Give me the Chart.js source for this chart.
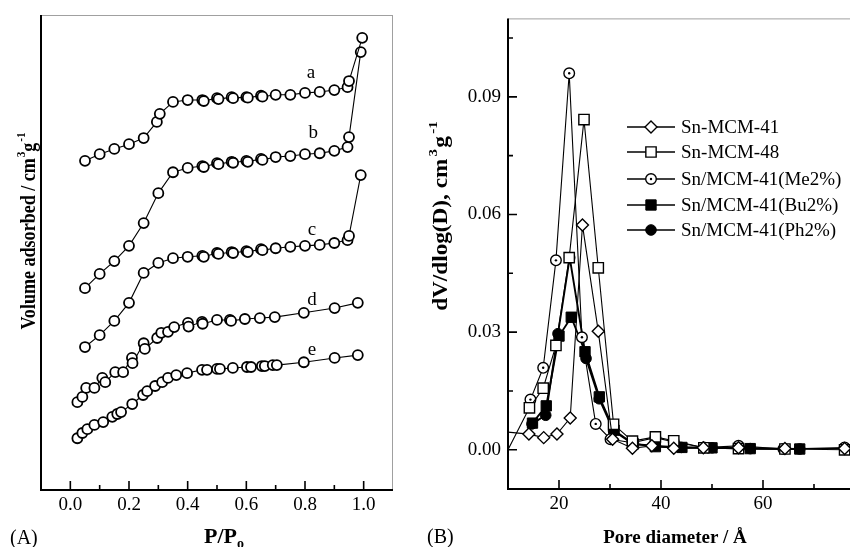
<!DOCTYPE html>
<html><head><meta charset="utf-8">
<script src="https://cdn.jsdelivr.net/npm/chart.js@4.4.1/dist/chart.umd.min.js"></script>
<style>
html,body{margin:0;padding:0;background:#fff;overflow:hidden;width:850px;height:547px;position:relative;}
#wa{position:absolute;left:0;top:0;width:425px;height:547px;}
#wb{position:absolute;left:425px;top:0;width:450px;height:547px;}
</style></head><body>
<div id="wa"><canvas id="ca"></canvas></div>
<div id="wb"><canvas id="cb"></canvas></div>
<script>
// ---------- Panel A: N2 isotherms (relative units, curves offset) ----------
const isoX_a = [0.05,0.10,0.15,0.20,0.25,0.295,0.305,0.35,0.40,0.45,0.455,0.50,0.505,0.55,0.555,0.60,0.605,0.65,0.655,0.70,0.75,0.80,0.85,0.90,0.945,0.95,0.995];
const isoY_a = [69.3,70.7,71.8,72.8,74.1,77.5,79.2,81.7,82.1,82.1,81.9,82.5,82.3,82.7,82.5,82.7,82.6,83.0,82.8,83.2,83.2,83.6,83.8,84.2,84.8,86.1,95.2];
const isoX_b = [0.05,0.10,0.15,0.20,0.25,0.30,0.35,0.40,0.45,0.455,0.50,0.505,0.55,0.555,0.60,0.605,0.65,0.655,0.70,0.75,0.80,0.85,0.90,0.945,0.95,0.99];
const isoY_b = [42.5,45.5,48.2,51.4,56.2,62.5,66.9,67.8,68.2,68.0,68.8,68.6,69.1,68.9,69.3,69.1,69.7,69.5,70.1,70.3,70.7,70.9,71.4,72.2,74.3,92.2];
const isoX_c = [0.05,0.10,0.15,0.20,0.25,0.30,0.35,0.40,0.45,0.455,0.50,0.505,0.55,0.555,0.60,0.605,0.65,0.655,0.70,0.75,0.80,0.85,0.90,0.945,0.95,0.99];
const isoY_c = [30.1,32.6,35.6,39.4,45.7,47.8,48.8,49.1,49.3,49.1,49.9,49.7,50.1,49.9,50.3,50.1,50.7,50.5,50.9,51.2,51.4,51.6,52.0,52.6,53.5,66.3];
const isoX_d = [0.024,0.041,0.054,0.082,0.109,0.119,0.153,0.180,0.210,0.212,0.250,0.254,0.296,0.310,0.333,0.354,0.401,0.403,0.449,0.451,0.500,0.544,0.548,0.595,0.646,0.697,0.796,0.901,0.980];
const isoY_d = [18.5,19.6,21.5,21.5,23.6,22.7,24.8,24.8,27.8,26.7,30.9,29.7,32.0,33.1,33.3,34.3,35.2,34.4,35.4,35.0,35.8,35.8,35.6,36.0,36.2,36.4,37.3,38.3,39.4];
const isoX_e = [0.024,0.041,0.058,0.082,0.112,0.143,0.160,0.173,0.211,0.248,0.262,0.289,0.313,0.333,0.361,0.398,0.449,0.466,0.500,0.510,0.554,0.602,0.616,0.653,0.663,0.690,0.704,0.796,0.901,0.980];
const isoY_e = [10.9,12.0,12.8,13.7,14.3,15.4,16.0,16.4,18.1,20.0,20.8,21.9,22.7,23.6,24.2,24.6,25.3,25.3,25.5,25.5,25.7,25.9,25.9,26.1,26.1,26.3,26.3,26.9,27.8,28.4];
const curveNames  = ['a','b','c','d','e'];
const curveLabelX = [0.82,0.828,0.824,0.824,0.824];
const curveLabelY = [86.7,74.1,53.7,38.9,28.4];
const xMajorA = [0,0.2,0.4,0.6,0.8,1.0];
const xMinorA = [0.1,0.3,0.5,0.7,0.9];

// ---------- Panel B: pore size distributions ----------
const seriesNames = ['Sn-MCM-41','Sn-MCM-48','Sn/MCM-41(Me2%)','Sn/MCM-41(Bu2%)','Sn/MCM-41(Ph2%)'];
const psdX_41   = [10,14.1,17.0,19.6,22.2,24.6,27.7,30.5,34.4,38.2,42.5,48.3,55.2,64.3,76.0];
const psdY_41   = [0.0045,0.0040,0.0031,0.0040,0.0081,0.0573,0.0302,0.0027,0.0004,0.0010,0.0004,0.0005,0.0005,0.0003,0.0003];
const psdX_48   = [10,14.2,16.9,19.4,22.0,24.9,27.7,30.7,34.4,38.9,42.5,48.4,55.2,64.3,76.0];
const psdY_48   = [0.0,0.0107,0.0157,0.0266,0.0490,0.0842,0.0464,0.0065,0.0022,0.0033,0.0023,0.0005,0.0003,0.0002,0.0000];
const psdX_Me   = [14.4,16.9,19.4,22.0,24.5,27.2,30.1,34.4,38.9,42.5,48.4,55.2,64.0,76.0];
const psdY_Me   = [0.0128,0.0209,0.0483,0.0960,0.0287,0.0066,0.0027,0.0018,0.0031,0.0020,0.0006,0.0010,0.0002,0.0006];
const psdX_Bu   = [14.8,17.5,20.0,22.4,25.1,27.9,30.8,34.6,38.9,44.1,50.0,57.5,67.2];
const psdY_Bu   = [0.0068,0.0112,0.0290,0.0338,0.0250,0.0135,0.0050,0.0015,0.0008,0.0006,0.0005,0.0003,0.0002];
const psdX_Ph   = [14.7,17.4,19.8,22.1,25.3,27.9,30.7,34.5,38.9,44.0,50.0,57.5,67.2];
const psdY_Ph   = [0.0066,0.0088,0.0296,0.0490,0.0233,0.0130,0.0048,0.0015,0.0010,0.0006,0.0005,0.0003,0.0002];
const xMajorB = [20,40,60];
const xMinorB = [30,50,70];
const yMajorB = [0,0.03,0.06,0.09];
const yMinorB = [0.015,0.045,0.075,0.105];

// ---------- helpers ----------
const FAM = '"Liberation Serif","Times New Roman",serif';
function font(s,b){return (b?'bold ':'')+s+'px '+FAM;}
function pts(xs,ys){return xs.map((x,i)=>({x:x,y:ys[i]}));}

function drawRich(ctx, parts, x, y, rot, sx){
  ctx.save();
  ctx.translate(x,y); ctx.rotate(rot||0); ctx.scale(sx||1,1);
  let total=0;
  parts.forEach(p=>{ctx.font=font(p.s,p.b); p.w=ctx.measureText(p.t).width+(p.gap||0); total+=p.w;});
  let cx=-total/2;
  ctx.textAlign='left'; ctx.textBaseline='alphabetic'; ctx.fillStyle='#000';
  parts.forEach(p=>{ctx.font=font(p.s,p.b); ctx.fillText(p.t,cx+(p.gap||0),p.dy||0); cx+=p.w;});
  ctx.restore();
}
function drawFrame(ctx,a){
  ctx.save();
  ctx.strokeStyle='#a0a0a0'; ctx.lineWidth=1;
  ctx.beginPath();
  ctx.moveTo(a.left,a.top+0.5); ctx.lineTo(a.right,a.top+0.5);
  ctx.moveTo(a.right-0.5,a.top); ctx.lineTo(a.right-0.5,a.bottom);
  ctx.stroke();
  ctx.strokeStyle='#000'; ctx.lineWidth=2;
  ctx.beginPath();
  ctx.moveTo(a.left,a.top); ctx.lineTo(a.left,a.bottom+1);
  ctx.moveTo(a.left-1,a.bottom); ctx.lineTo(a.right,a.bottom);
  ctx.stroke();
  ctx.restore();
}
function drawXTicks(ctx,a,sc,major,minor){
  ctx.save(); ctx.strokeStyle='#000'; ctx.lineWidth=1.6; ctx.beginPath();
  major.forEach(v=>{const p=sc.getPixelForValue(v); ctx.moveTo(p,a.bottom); ctx.lineTo(p,a.bottom-9);});
  minor.forEach(v=>{const p=sc.getPixelForValue(v); ctx.moveTo(p,a.bottom); ctx.lineTo(p,a.bottom-5);});
  ctx.stroke(); ctx.restore();
}
function drawYTicks(ctx,a,sc,major,minor){
  ctx.save(); ctx.strokeStyle='#000'; ctx.lineWidth=1.6; ctx.beginPath();
  major.forEach(v=>{const p=sc.getPixelForValue(v); ctx.moveTo(a.left,p); ctx.lineTo(a.left+9,p);});
  minor.forEach(v=>{const p=sc.getPixelForValue(v); ctx.moveTo(a.left,p); ctx.lineTo(a.left+5,p);});
  ctx.stroke(); ctx.restore();
}

// ---------- Chart A ----------
const isoSets = [[isoX_a,isoY_a],[isoX_b,isoY_b],[isoX_c,isoY_c],[isoX_d,isoY_d],[isoX_e,isoY_e]];
const decoA = {id:'decoA', afterDraw(chart){
  const {ctx, chartArea:a, scales:{x,y}} = chart;
  drawFrame(ctx,a);
  drawXTicks(ctx,a,x,xMajorA,xMinorA);
  ctx.save(); ctx.fillStyle='#000'; ctx.font=font(19,false); ctx.textAlign='center'; ctx.textBaseline='alphabetic';
  curveNames.forEach((n,i)=>ctx.fillText(n,x.getPixelForValue(curveLabelX[i]),y.getPixelForValue(curveLabelY[i])));
  ctx.font=font(20,false); ctx.textAlign='left'; ctx.fillText('(A)',10,544);
  ctx.restore();
  drawRich(ctx,[{t:'Volume adsorbed / cm',s:21,b:true},{t:'3',s:13,b:true,dy:-10,gap:1},{t:'g',s:21,b:true},{t:'-1',s:13,b:true,dy:-10,gap:1}],35,231,-Math.PI/2,0.86);
  drawRich(ctx,[{t:'P/P',s:22,b:true},{t:'o',s:14,b:true,dy:5}],224,543,0,1);
}};
new Chart(document.getElementById('ca'),{
  type:'scatter',
  data:{datasets:isoSets.map(s=>({data:pts(s[0],s[1]),showLine:true,borderColor:'#000',borderWidth:1.1,
    pointStyle:'circle',pointRadius:5,pointBorderWidth:1.8,pointBorderColor:'#000',pointBackgroundColor:'#fff',tension:0}))},
  options:{responsive:true,maintainAspectRatio:false,animation:false,
    layout:{padding:{left:0,top:15,right:32,bottom:0}},
    plugins:{legend:{display:false},tooltip:{enabled:false}},
    scales:{
      x:{type:'linear',min:-0.1,max:1.1,grid:{display:false,drawTicks:false},border:{display:false},
         afterBuildTicks:s=>{s.ticks=xMajorA.map(v=>({value:v}));},
         afterFit:s=>{s.height=57;},
         ticks:{color:'#000',font:{family:FAM,size:19},padding:4,maxRotation:0,autoSkip:false,callback:v=>Number(v).toFixed(1)}},
      y:{type:'linear',min:0,max:100,grid:{display:false,drawTicks:false},border:{display:false},
         ticks:{display:false},afterFit:s=>{s.width=41;}}
    }},
  plugins:[decoA]
});

// ---------- Chart B ----------
const psdSets=[[psdX_41,psdY_41],[psdX_48,psdY_48],[psdX_Me,psdY_Me],[psdX_Bu,psdY_Bu],[psdX_Ph,psdY_Ph]];
const psdStyle=[
  {ps:'rectRot',r:6,bg:'#fff',bw:1.4,lw:1.1,dot:false},
  {ps:'rect',r:7.3,bg:'#fff',bw:1.4,lw:1.1,dot:false},
  {ps:'circle',r:5.3,bg:'#fff',bw:1.4,lw:1.1,dot:true},
  {ps:'rect',r:7.3,bg:'#000',bw:1,lw:1.9,dot:false},
  {ps:'circle',r:5.3,bg:'#000',bw:1,lw:1.9,dot:false}
];
function centreDot(ctx,x,y){ctx.beginPath(); ctx.arc(x,y,1.2,0,2*Math.PI); ctx.fill();}
const legendRowY=[127,152,179,205,230];
const decoB={id:'decoB',
 afterDatasetDraw(chart,args){
  if(!psdStyle[args.index].dot) return;
  const {ctx, chartArea:a} = chart;
  ctx.save(); ctx.fillStyle='#000';
  chart.getDatasetMeta(args.index).data.forEach(p=>{ if(p.x>=a.left && p.x<=a.right+6) centreDot(ctx,p.x,p.y); });
  ctx.restore();
 },
 afterDraw(chart){
  const {ctx, chartArea:a, scales:{x,y}} = chart;
  drawFrame(ctx,a);
  drawXTicks(ctx,a,x,xMajorB,xMinorB);
  drawYTicks(ctx,a,y,yMajorB,yMinorB);
  ctx.save();
  seriesNames.forEach((n,i)=>{
    const st=psdStyle[i], yy=legendRowY[i];
    ctx.strokeStyle='#000'; ctx.lineWidth=1.3;
    ctx.beginPath(); ctx.moveTo(202,yy); ctx.lineTo(250,yy); ctx.stroke();
    ctx.fillStyle=st.bg; ctx.strokeStyle='#000'; ctx.lineWidth=st.bw;
    Chart.helpers.drawPoint(ctx,{pointStyle:st.ps,radius:st.r,borderWidth:st.bw,rotation:0},226,yy);
    if(st.dot){ctx.fillStyle='#000'; centreDot(ctx,226,yy);}
    ctx.fillStyle='#000'; ctx.font=font(19,false); ctx.textAlign='left'; ctx.textBaseline='middle';
    ctx.fillText(n,256,yy+1);
  });
  ctx.font=font(20,false); ctx.textBaseline='alphabetic'; ctx.fillText('(B)',2,543);
  ctx.restore();
  drawRich(ctx,[{t:'dV/dlog(D), cm',s:20,b:true},{t:'3',s:13,b:true,dy:-10,gap:2},{t:'g',s:20,b:true,gap:1},{t:'-1',s:13,b:true,dy:-10,gap:2}],22,216,-Math.PI/2,1.16);
  drawRich(ctx,[{t:'Pore diameter / Å',s:19,b:true}],250,543,0,1);
}};
new Chart(document.getElementById('cb'),{
  type:'scatter',
  data:{datasets:psdSets.map((s,i)=>({label:seriesNames[i],data:pts(s[0],s[1]),showLine:true,borderColor:'#000',borderWidth:psdStyle[i].lw,
    pointStyle:psdStyle[i].ps,pointRadius:c=>(c.raw&&c.raw.x<=10)?0:psdStyle[i].r,pointBorderWidth:psdStyle[i].bw,
    pointBorderColor:'#000',pointBackgroundColor:psdStyle[i].bg,tension:0}))},
  options:{responsive:true,maintainAspectRatio:false,animation:false,
    layout:{padding:{left:0,top:15,right:10,bottom:0}},
    plugins:{legend:{display:false},tooltip:{enabled:false}},
    scales:{
      x:{type:'linear',min:10,max:80,grid:{display:false,drawTicks:false},border:{display:false},
         afterBuildTicks:s=>{s.ticks=xMajorB.map(v=>({value:v}));},
         afterFit:s=>{s.height=58;},
         ticks:{color:'#000',font:{family:FAM,size:19},padding:4,maxRotation:0,autoSkip:false,callback:v=>String(v)}},
      y:{type:'linear',min:-0.01,max:0.11,grid:{display:false,drawTicks:false},border:{display:false},
         afterBuildTicks:s=>{s.ticks=yMajorB.map(v=>({value:v}));},
         afterFit:s=>{s.width=83;},
         ticks:{color:'#000',font:{family:FAM,size:19},padding:7,callback:v=>Number(v).toFixed(2)}}
    }},
  plugins:[decoB]
});
</script>
</body></html>
